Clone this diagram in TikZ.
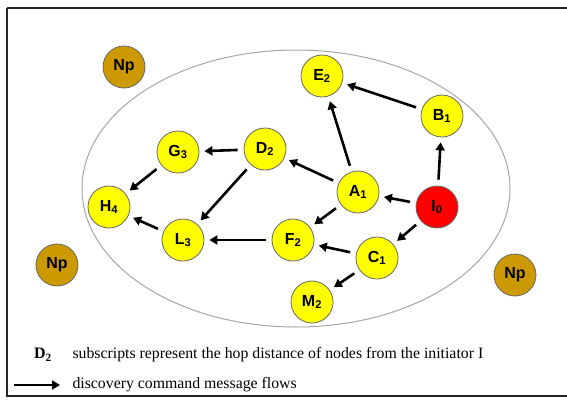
\documentclass[tikz,border=0pt]{standalone}
\usepackage{fontspec}
\setmainfont{Liberation Serif}
\newfontfamily\nodefont{Liberation Sans}
\usetikzlibrary{arrows.meta}
\definecolor{nodeyellow}{HTML}{FFFF00}
\definecolor{nodered}{HTML}{FF0000}
\definecolor{npbrown}{HTML}{CC9900}
\begin{document}
\begin{tikzpicture}[x=1pt,y=-1pt,
  hop/.style={circle,draw=gray!80!black,line width=0.8pt,fill=nodeyellow,
    minimum size=42pt,inner sep=0pt,font=\nodefont\bfseries\fontsize{16}{18}\selectfont},
  initiator/.style={hop,fill=nodered},
  np/.style={hop,fill=npbrown},
  flow/.style={line width=2.6pt,-{Triangle[length=8pt,width=9pt]},
    shorten <=6pt,shorten >=5pt},
  legend/.style={anchor=west,font=\fontsize{15.8}{18}\selectfont}]
\useasboundingbox (0,0) rectangle (567,399);
% outer frame
\draw[line width=2.8pt,black!85] (7,8) -- (590,8);
\draw[line width=2.8pt,black!85] (7,8) -- (7,396) -- (590,396);
% discovery region
\draw[gray!70,line width=1pt] (296,188.5) ellipse [x radius=214,y radius=138.5];
% nodes
\node[np] (np1) at (124,67) {Np};
\node[np] (np2) at (57,265) {Np};
\node[np] (np3) at (515,275) {Np};
\node[hop] (E) at (322,76) {E\textsubscript{2}};
\node[hop] (B) at (442,116) {B\textsubscript{1}};
\node[hop] (G) at (178,152) {G\textsubscript{3}};
\node[hop] (D) at (265,149) {D\textsubscript{2}};
\node[hop] (H) at (109,207) {H\textsubscript{4}};
\node[hop] (L) at (183,240) {L\textsubscript{3}};
\node[hop] (A) at (358,192) {A\textsubscript{1}};
\node[initiator] (I) at (437,207) {I\textsubscript{0}};
\node[hop] (F) at (293,240) {F\textsubscript{2}};
\node[hop] (C) at (377,258) {C\textsubscript{1}};
\node[hop] (M) at (312,302) {M\textsubscript{2}};
% message flows
\draw[flow] (B) -- (E);
\draw[flow] (I) -- (B);
\draw[flow] (I) -- (A);
\draw[flow] (I) -- (C);
\draw[flow] (A) -- (E);
\draw[flow] (A) -- (D);
\draw[flow] (A) -- (F);
\draw[flow] (D) -- (G);
\draw[flow] (D) -- (L);
\draw[flow] (G) -- (H);
\draw[flow] (L) -- (H);
\draw[flow] (F) -- (L);
\draw[flow] (C) -- (F);
\draw[flow] (C) -- (M);
% legend
\node[font=\bfseries\fontsize{16}{18}\selectfont] (key) at (43,355) {D\textsubscript{2}};
\node[legend] (keytext) at (69,355)
  {subscripts represent the hop distance of nodes from the initiator I};
\coordinate (arrs) at (14,385);
\coordinate (arre) at (60,385);
\draw[line width=2.6pt,-{Triangle[length=8pt,width=9pt]}] (arrs) -- (arre);
\node[legend] (flowtext) at (69,385) {discovery command message flows};
\end{tikzpicture}
\end{document}
